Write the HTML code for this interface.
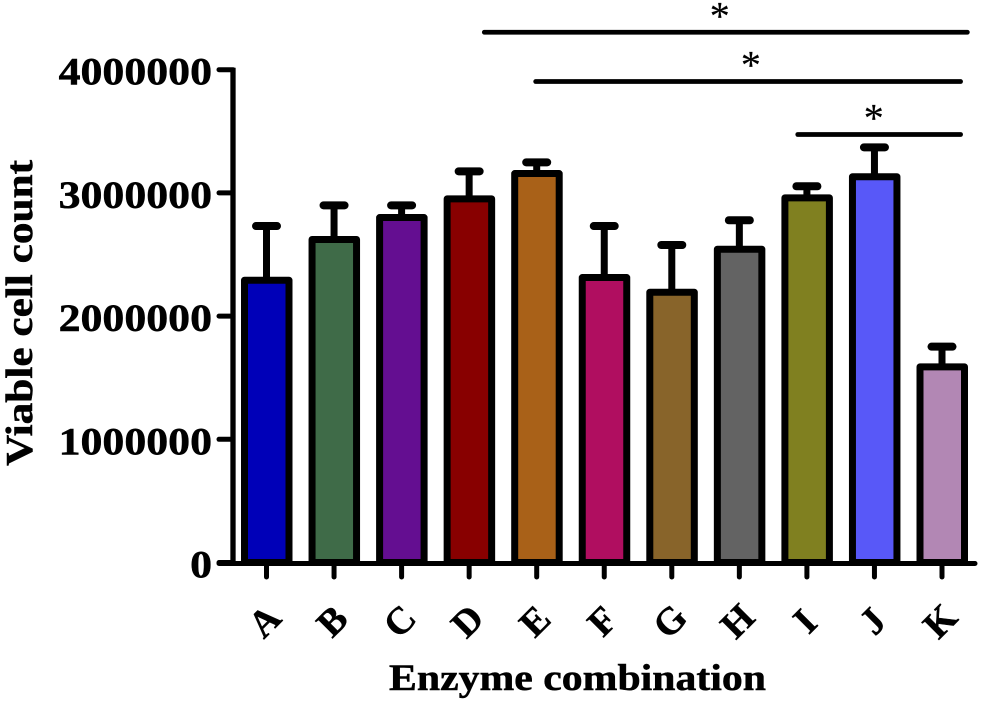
<!DOCTYPE html>
<html>
<head>
<meta charset="utf-8">
<title>Viable cell count by enzyme combination</title>
<style>
html,body{margin:0;padding:0;background:#fff}
svg{display:block}
text{font-family:"Liberation Serif",serif;font-weight:bold;fill:#000;stroke:#000;stroke-width:0.5px}
</style>
</head>
<body>
<svg id="chart" width="981" height="703" viewBox="0 0 981 703" xmlns="http://www.w3.org/2000/svg"></svg>
<script>
const categories = ['A','B','C','D','E','F','G','H','I','J','K'];
const means = [2291000,2622000,2800000,2952000,3157000,2313000,2194000,2543000,2960000,3131000,1588000];
const errorTops = [2731000,2899000,2899000,3175000,3248000,2731000,2577000,2778000,3054000,3370000,1752000];
const barColors = ['#0000b8','#3f6b48','#640e91','#880000','#a96118','#b00e60','#88642a','#636363','#808020','#5858f8','#b287b4'];
const yTicks = [0,1000000,2000000,3000000,4000000];
const yTickLabels = ['0','1000000','2000000','3000000','4000000'];
const sigFrom = [3.225,3.985,7.865];
const sigTo = [10.375,10.275,10.275];
const sigLevels = [4304000,3904000,3474000];
const sigStarCats = [6.71,7.17,8.99];

const svg = document.getElementById('chart');
const NS = 'http://www.w3.org/2000/svg';
const yScale = v => 562.5 - v * 123.2 / 1000000;
const xScale = i => 266.5 + i * 67.55;

function add(tag, attrs, parent) {
  const el = document.createElementNS(NS, tag);
  for (const k in attrs) el.setAttribute(k, attrs[k]);
  (parent || svg).appendChild(el);
  return el;
}

// Bars and error bars
categories.forEach((c, i) => {
  const cx = xScale(i), top = yScale(means[i]), et = yScale(errorTops[i]);
  const g = add('g', {});
  
  
  const stem = add('line', {x1: cx, x2: cx, y1: top, y2: et, stroke: '#000', 'stroke-width': 7}, g);
  
  
  const cap = add('line', {x1: cx - 10.5, x2: cx + 10.5, y1: et, y2: et, stroke: '#000', 'stroke-width': 8, 'stroke-linecap': 'round'}, g);
  
  
  const bar = add('rect', {x: cx - 22, y: top, width: 44.5, height: yScale(0) - top, fill: barColors[i], stroke: '#000', 'stroke-width': 7, 'stroke-linejoin': 'round'}, g);
  
  
});

// Y axis
const yAxis = add('line', {x1: 233, x2: 233, y1: yScale(4000000) - 2, y2: yScale(0) + 2, stroke: '#000', 'stroke-width': 5.3});


yTicks.forEach((v, i) => {
  const y = yScale(v);
  const t = add('line', {x1: 219, x2: 233, y1: y, y2: y, stroke: '#000', 'stroke-width': 5, 'stroke-linecap': 'round'});
  
  
  const g = add('g', {transform: 'translate(212 ' + (y + 15) + ') scale(1.11 1)'});
  const lab = add('text', {x: 0, y: 0, 'text-anchor': 'end', 'font-size': 39.5}, g);
  lab.textContent = yTickLabels[i];
  
  
});

// X axis
const xAxis = add('line', {x1: 219, x2: 975, y1: yScale(0) + 1, y2: yScale(0) + 1, stroke: '#000', 'stroke-width': 5, 'stroke-linecap': 'round'});


categories.forEach((c, i) => {
  const cx = xScale(i);
  const t = add('line', {x1: cx, x2: cx, y1: yScale(0) + 1, y2: 577, stroke: '#000', 'stroke-width': 5, 'stroke-linecap': 'round'});
  
  
  const lab = add('text', {x: 0, y: 0, 'text-anchor': 'middle', 'font-size': 38, transform: 'translate(' + (cx + 7) + ' 630) rotate(-45)'});
  lab.textContent = c;
  
  
});

// Significance markers
sigLevels.forEach((lvl, i) => {
  const y = yScale(lvl);
  const l = add('line', {x1: xScale(sigFrom[i]), x2: xScale(sigTo[i]), y1: y, y2: y, stroke: '#000', 'stroke-width': 4.8, 'stroke-linecap': 'round'});
  
  
  const s = add('text', {x: xScale(sigStarCats[i]), y: y - 3, 'text-anchor': 'middle', 'font-size': 40});
  s.style.fontWeight = 'normal';
  s.style.strokeWidth = '0.2px';
  s.textContent = '*';
  
  
});

// Axis titles
const yTitle = add('text', {x: 0, y: 0, 'font-size': 38, textLength: 306, lengthAdjust: 'spacingAndGlyphs', transform: 'translate(32 466) rotate(-90)'});
yTitle.textContent = 'Viable cell count';


const xTitle = add('text', {x: 389, y: 690, 'font-size': 37, textLength: 377, lengthAdjust: 'spacingAndGlyphs'});
xTitle.textContent = 'Enzyme combination';


</script>
</body>
</html>
